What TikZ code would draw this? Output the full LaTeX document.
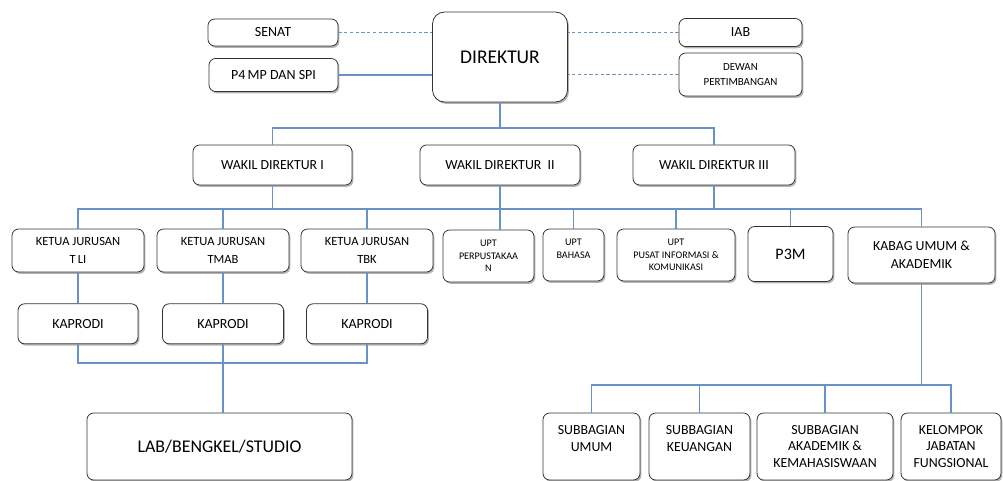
\documentclass[tikz,border=0pt]{standalone}
\usepackage{fontspec}
\setmainfont{Carlito}
\usetikzlibrary{positioning}
\usetikzlibrary{shadows}
\definecolor{linkblue}{HTML}{6A92CA}

\begin{document}
\begin{tikzpicture}
		[x=0.75pt, y=-0.75pt,
		unit/.style={draw=black!80, line width=0.6pt, fill=white, rounded corners=5pt, align=center, inner sep=1pt,
			drop shadow={shadow xshift=1.1pt, shadow yshift=-1.4pt, fill=black!60}},
		boxsize/.style 2 args={minimum width=#1*0.75pt, minimum height=#2*0.75pt},
		fs/.style 2 args={font=\fontsize{#1}{#2}\selectfont},
		link/.style={draw=linkblue, line width=1pt},
		dashlink/.style={link, line width=0.8pt, dash pattern=on 2.5pt off 1.8pt}]
		\useasboundingbox (0,0) rectangle (1003,481);

		\node[unit, boxsize={135}{90}, rounded corners=9pt, fs={14.6}{17}] (direktur) at (500,57) {DIREKTUR};
		\node[unit, boxsize={130}{27}, fs={10.5}{12}] (senat) at (273,32.5) {SENAT};
		\node[unit, boxsize={129}{33}, fs={10.5}{12}] (p4mp) at (273.5,75) {P4\,MP DAN SPI};
		\node[unit, boxsize={123}{28}, fs={10.5}{12}] (iab) at (740.5,32.5) {IAB};
		\node[unit, boxsize={123}{43}, fs={8.2}{11}] (dewan) at (740.5,74.5) {DEWAN\\PERTIMBANGAN};

		\node[unit, boxsize={159}{40}, fs={10.4}{12}] (wakil1) at (272.5,165) {WAKIL DIREKTUR I};
		\node[unit, boxsize={160}{40}, fs={10.4}{12}] (wakil2) at (500,165) {WAKIL DIREKTUR\ \ II};
		\node[unit, boxsize={162}{40}, fs={10.4}{12}] (wakil3) at (714,165) {WAKIL DIREKTUR III};

		\node[unit, boxsize={132}{43}, fs={9.4}{13}] (tli) at (78,250.5) {KETUA JURUSAN\\T\,LI};
		\node[unit, boxsize={132}{43}, fs={9.4}{13}] (tmab) at (223,250.5) {KETUA JURUSAN\\TMAB};
		\node[unit, boxsize={132}{43}, fs={9.4}{13}] (tbk) at (367,250.5) {KETUA JURUSAN\\TBK};
		\node[unit, boxsize={91}{52}, fs={7.6}{9.5}] (perpus) at (488.5,256) {UPT\\PERPUSTAKAA\\N};
		\node[unit, boxsize={61}{52}, fs={7.6}{9.5}] (bahasa) at (573.5,255) {UPT\\BAHASA\\\mbox{}};
		\node[unit, boxsize={118}{52}, fs={7.6}{9.5}] (pusat) at (676,255) {UPT\\PUSAT INFORMASI \&\\KOMUNIKASI};
		\node[unit, boxsize={85}{55}, fs={12}{14}] (p3m) at (790.5,254) {P3M};
		\node[unit, boxsize={147}{56}, fs={10.4}{13.5}] (kabag) at (921.5,255) {KABAG UMUM \&\\AKADEMIK};

		\node[unit, boxsize={120}{40}, fs={10.5}{12}, below=23.25pt of tli] (kaprodi1) {KAPRODI};
		\node[unit, boxsize={121}{40}, fs={10.5}{12}, below=23.25pt of tmab] (kaprodi2) {KAPRODI};
		\node[unit, boxsize={121}{40}, fs={10.5}{12}, below=23.25pt of tbk] (kaprodi3) {KAPRODI};
		\node[unit, boxsize={265}{67}, fs={13.4}{16}] (lab) at (219.5,446.5) {LAB/BENGKEL/STUDIO};

		\node[unit, boxsize={97}{67}, fs={10.4}{12.4}] (sub1) at (591.5,446.5) {SUBBAGIAN\\UMUM\\\mbox{}};
		\node[unit, boxsize={101}{67}, fs={10.4}{12.4}] (sub2) at (699.5,446.5) {SUBBAGIAN\\KEUANGAN\\\mbox{}};
		\node[unit, boxsize={136}{67}, fs={10.4}{12.4}] (sub3) at (825,446.5) {SUBBAGIAN\\AKADEMIK \&\\KEMAHASISWAAN};
		\node[unit, boxsize={100}{67}, fs={10.4}{12.4}] (sub4) at (951,446.5) {KELOMPOK\\JABATAN\\FUNGSIONAL};

		\coordinate (bus1) at (500,128);
		\coordinate (bus2) at (500,209);
		\coordinate (bus3) at (223,363);
		\coordinate (bus4) at (921.5,385);

		\draw[dashlink] (senat) -- (senat -| direktur.west);
		\draw[link] (p4mp) -- (p4mp -| direktur.west);
		\draw[dashlink] (iab) -- (iab -| direktur.east);
		\draw[dashlink] (dewan) -- (dewan -| direktur.east);

		\draw[link] (direktur) -- (bus1);
		\draw[link] (wakil1) |- (bus1) -| (wakil3);
		\draw[link] (wakil1) -- (wakil1 |- bus2);
		\draw[link] (wakil3) -- (wakil3 |- bus2);
		\draw[link] (wakil2) -- (wakil2 |- perpus.north);
		\draw[link] (tli) |- (bus2 -| kabag) -- (kabag);
		\foreach \n in {tmab,tbk,bahasa,pusat,p3m}
			\draw[link] (\n) -- (\n |- bus2);

		\foreach \k/\p in {tli/kaprodi1,tmab/kaprodi2,tbk/kaprodi3}
			\draw[link] (\k) -- (\p);
		\draw[link] (kaprodi1) |- (bus3) -| (kaprodi3);
		\draw[link] (kaprodi2) -- (kaprodi2 |- lab.north);

		\draw[link] (kabag) -- (bus4);
		\draw[link] (sub1) |- (bus4 -| sub4) -- (sub4);
		\foreach \n in {sub2,sub3}
			\draw[link] (\n) -- (\n |- bus4);
	\end{tikzpicture}
\end{document}
